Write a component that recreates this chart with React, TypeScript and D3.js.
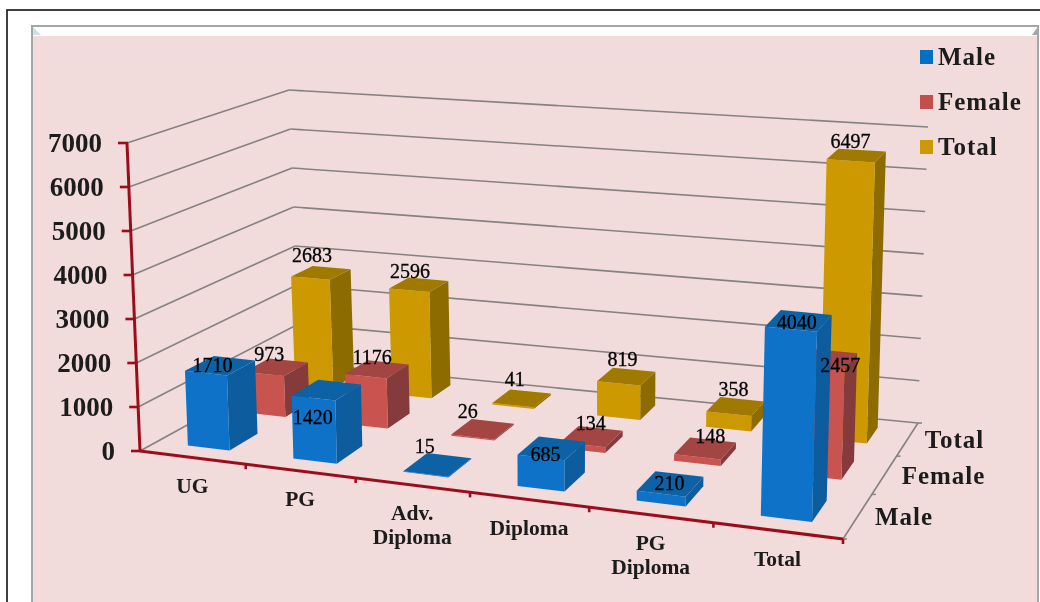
import React from 'react';
import * as d3 from 'd3';

const categories = ['UG', 'PG', 'Adv. Diploma', 'Diploma', 'PG Diploma', 'Total'];
const categoryLines = [['UG'], ['PG'], ['Adv.', 'Diploma'], ['Diploma'], ['PG', 'Diploma'], ['Total']];
const seriesNames = ['Male', 'Female', 'Total'];
const male = [1710, 1420, 15, 685, 210, 4040];
const female = [973, 1176, 26, 134, 148, 2457];
const total = [2683, 2596, 41, 819, 358, 6497];
const seriesValues = [male, female, total];

// hand nudges for the value labels, the source chart places them unevenly
const labelNudgeMale = [[-8, 14], [-14, 42], [-13, -4], [-6, 21], [-1, 14], [-2, 16]];
const labelNudgeFemale = [[-7, 2], [-5, 3], [-15, -3], [-1, 2], [5, 3], [14, 21]];
const labelNudgeTotal = [[-9, -3], [-9, 1], [-7, -4], [-4, -2], [-2, -2], [-6, 1]];
const labelNudges = [labelNudgeMale, labelNudgeFemale, labelNudgeTotal];

const faceColors: Record<string, { front: string; side: string; top: string; swatch: string }> = {
  Male: { front: '#0a72c8', side: '#0b5d9e', top: '#0b62a6', swatch: '#0070c0' },
  Female: { front: '#c9524f', side: '#853a3a', top: '#a34442', swatch: '#c0504d' },
  Total: { front: '#cc9900', side: '#8c6c00', top: '#a07a00', swatch: '#cc9900' },
};

type Pt = [number, number];

// cube corners on screen: floor, then top of the 7000 level
const floorFL: Pt = [140, 451];
const floorFR: Pt = [843, 539];
const floorBL: Pt = [300, 363];
const floorBR: Pt = [918, 423];
const topFL: Pt = [127, 143];
const topFR: Pt = [853, 204];
const topBL: Pt = [289, 90];
const topBR: Pt = [928, 127];

// perspective foreshortening along the two floor directions
const warp = (t: number, k: number) => t / (t + k * (1 - t));
const warpU = (t: number) => warp(t, 1.13);
const warpV = (t: number) => warp(t, 0.8);

const lerp = (a: Pt, b: Pt, t: number): Pt => [a[0] + (b[0] - a[0]) * t, a[1] + (b[1] - a[1]) * t];

const project = (u: number, v: number, h: number): Pt => {
  const uu = warpU(u);
  const vv = warpV(v);
  const floor = lerp(lerp(floorFL, floorFR, uu), lerp(floorBL, floorBR, uu), vv);
  const top = lerp(lerp(topFL, topFR, uu), lerp(topBL, topBR, uu), vv);
  return lerp(floor, top, h);
};

const xBand = d3.scaleBand<string>().domain(categories).range([0, 1]).paddingInner(0.6).paddingOuter(0.3);
const xStep = d3.scaleBand<string>().domain(categories).range([0, 1]);
const depthBand = d3.scaleBand<string>().domain(seriesNames).range([0, 1]).paddingInner(0.52).paddingOuter(0.26);
const depthStep = d3.scaleBand<string>().domain(seriesNames).range([0, 1]);
const yScale = d3.scaleLinear().domain([0, 7000]).range([0, 1]);
const yTicks = yScale.ticks(7);

const poly = (pts: Pt[]) => pts.map(p => `${p[0].toFixed(1)},${p[1].toFixed(1)}`).join(' ');
const line = (a: Pt, b: Pt) => ({ x1: a[0], y1: a[1], x2: b[0], y2: b[1] });

const serif = '"Liberation Serif", serif';
const gridColor = '#868181';
const axisRed = '#9c0f1e';

export default function App() {
  return (
    <svg width={1040} height={602} style={{ position: 'absolute', left: 0, top: 0, display: 'block' }} fontFamily={serif}>
      <defs>
        <filter id="soft"><feGaussianBlur stdDeviation="0.5" /></filter>
      </defs>
      <rect width={1040} height={602} fill="#fff" />
      <rect x={7} y={10} width={1060} height={640} fill="none" stroke="#111" strokeWidth={1.6} />
      <rect x={32} y={26} width={1006} height={600} fill="#fdfdfd" stroke="#a3a7a8" strokeWidth={2} />
      <rect x={33} y={36} width={1004} height={570} fill="#f2dcdb" />
      <polygon points="33,27 41,35 33,35" fill="#cfe0e8" />
      <polygon points="1037,28 1037,35 1032,35" fill="#a3a7a8" />

      <g filter="url(#soft)">
        {/* walls */}
        {yTicks.map(t => {
          const h = yScale(t);
          return (
            <g key={t} stroke={gridColor} strokeWidth={1.6} fill="none">
              <line {...line(project(0, 0, h), project(0, 1, h))} />
              <line {...line(project(0, 1, h), project(1, 1, h))} />
            </g>
          );
        })}
        <line {...line(project(1, 0, 0), project(1, 1, 0))} stroke={gridColor} strokeWidth={1.6} />
        {depthStep.domain().map(s => {
          const p = project(1, depthStep(s)!, 0);
          return <line key={s} x1={p[0]} y1={p[1]} x2={p[0] + 4} y2={p[1]} stroke={gridColor} strokeWidth={1.5} />;
        })}
        <line {...line(project(1, 1, 0), [project(1, 1, 0)[0] + 4, project(1, 1, 0)[1]])} stroke={gridColor} strokeWidth={1.5} />

        {/* bars, back row first */}
        {d3.range(seriesNames.length - 1, -1, -1).map(si => {
          const name = seriesNames[si];
          const c = faceColors[name];
          const v0 = depthBand(name)!;
          const v1 = v0 + depthBand.bandwidth();
          return categories.map((cat, ci) => {
            const u0 = xBand(cat)!;
            const u1 = u0 + xBand.bandwidth();
            const h = yScale(seriesValues[si][ci]);
            return (
              <g key={name + cat}>
                <polygon points={poly([project(u1, v0, 0), project(u1, v1, 0), project(u1, v1, h), project(u1, v0, h)])} fill={c.side} />
                <polygon points={poly([project(u0, v0, 0), project(u1, v0, 0), project(u1, v0, h), project(u0, v0, h)])} fill={c.front} />
                <polygon points={poly([project(u0, v0, h), project(u1, v0, h), project(u1, v1, h), project(u0, v1, h)])} fill={c.top} />
              </g>
            );
          });
        })}

        {/* value axis */}
        <line {...line(project(0, 0, 0), project(0, 0, 1))} stroke={axisRed} strokeWidth={3} />
        {yTicks.map(t => {
          const p = project(0, 0, yScale(t));
          return (
            <g key={t}>
              <line x1={p[0] - 9} y1={p[1]} x2={p[0] + 1} y2={p[1]} stroke={axisRed} strokeWidth={2.6} />
              <text x={p[0] - 25} y={p[1] + 9} textAnchor="end" fontSize={27} fontWeight="bold" fill="#1a1a1a">{t}</text>
            </g>
          );
        })}

        {/* category axis */}
        <line {...line(project(0, 0, 0), project(1, 0, 0))} stroke={axisRed} strokeWidth={3} />
        {xStep.domain().map((cat, i) => {
          const p = project(xStep(cat)! + xStep.step(), 0, 0);
          const mid = project(xStep(cat)! + xStep.step() / 2, 0, 0);
          return (
            <g key={cat}>
              <line x1={p[0]} y1={p[1]} x2={p[0]} y2={p[1] + 5} stroke={axisRed} strokeWidth={2.6} />
              {categoryLines[i].map((txt, li) => (
                <text key={li} x={mid[0]} y={mid[1] + 35 + li * 24} textAnchor="middle" fontSize={21.5} fontWeight="bold" fill="#1a1a1a">{txt}</text>
              ))}
            </g>
          );
        })}

        {/* series axis labels */}
        {seriesNames.map(s => {
          const p = project(1, depthStep(s)! + depthStep.step() / 2, 0);
          return (
            <text key={s} x={p[0] + 17} y={p[1] + 9} fontSize={25} fontWeight="bold" letterSpacing={1} fill="#1a1a1a">{s}</text>
          );
        })}

        {/* value labels */}
        {seriesNames.map((name, si) =>
          categories.map((cat, ci) => {
            const p = project(xBand(cat)! + xBand.bandwidth() / 2, depthBand(name)! + depthBand.bandwidth() / 2, yScale(seriesValues[si][ci]));
            const [dx, dy] = labelNudges[si][ci];
            return (
              <text key={name + cat} x={p[0] + dx} y={p[1] - 8 + dy} textAnchor="middle" fontSize={20} fill="#000" stroke="#000" strokeWidth={0.3}>{seriesValues[si][ci]}</text>
            );
          })
        )}

        {/* legend */}
        {seriesNames.map((s, i) => (
          <g key={s} transform={`translate(0,${57 + i * 45})`}>
            <rect x={920} y={-7} width={13} height={14} fill={faceColors[s].swatch} />
            <text x={938} y={8} fontSize={25} fontWeight="bold" letterSpacing={1} fill="#1a1a1a">{s}</text>
          </g>
        ))}
      </g>
    </svg>
  );
}
